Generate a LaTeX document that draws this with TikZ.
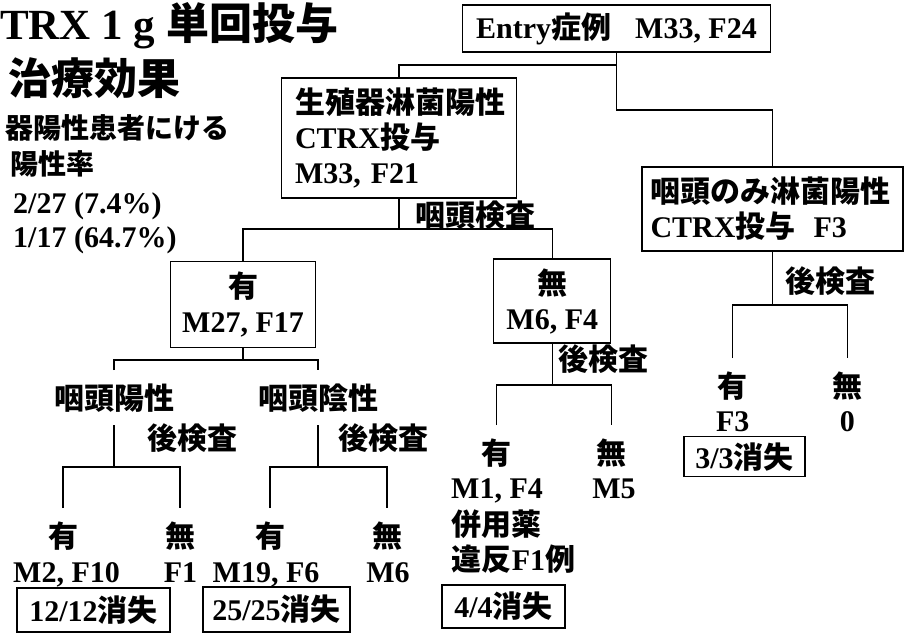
\documentclass[tikz,border=0pt]{standalone}
\usepackage{fontspec}
\setmainfont{Liberation Serif}
\newfontfamily\jpfam{Noto Sans CJK JP}
\newcommand\JPt[1]{{\jpfam #1}}
\begin{document}
\begin{tikzpicture}[x=1pt,y=-1pt,
  every node/.style={inner sep=0pt, font=\bfseries\fontsize{30}{35}\selectfont},
  box/.style={draw, line width=1.2pt},
  lk/.style={line width=1.2pt},
  lab/.style={anchor=base west},
  leaf/.style={anchor=base, inner ysep=13pt},
  cnt/.style={anchor=base},
  ttl/.style={anchor=base west, font=\bfseries\fontsize{43}{50}\selectfont},
  subt/.style={anchor=base west, font=\bfseries\fontsize{28}{34}\selectfont}]
\useasboundingbox (0,0) rectangle (905,635);

% title block
\node[ttl] (t1) at (0,39) {TRX 1 g \JPt{単回投与}};
\node[ttl] (t2) at (8,94) {\JPt{治療効果}};
\node[subt] (t3) at (5,138) {\JPt{器陽性患者にける}};
\node[subt] (t4) at (10,174) {\JPt{陽性率}};
\node[anchor=base west] (t5) at (13,213) {2/27 (7.4\%)};
\node[anchor=base west] (t6) at (13,247) {1/17 (64.7\%)};

% boxes
\node[box, minimum width=308pt, minimum height=47pt] (entry) at (616.5,28.5)
  {Entry\JPt{症例}\hspace{24pt}M33, F24};
\node[box, minimum width=235pt, minimum height=120pt, align=left, text width=208pt] (gen) at (399,138)
  {\JPt{生殖器淋菌陽性}\\CTRX\JPt{投与}\\M33, F21};
\node[box, minimum width=261pt, minimum height=84pt, align=left, text width=244pt] (ph) at (772.5,209)
  {\JPt{咽頭のみ淋菌陽性}\\CTRX\JPt{投与}\hspace{18pt}F3};
\node[box, minimum width=145pt, minimum height=86pt, align=center] (yu) at (243,304.5)
  {\JPt{有}\\M27, F17};
\node[box, minimum width=117pt, minimum height=84pt, align=center] (mu) at (552.3,301)
  {\JPt{無}\\M6, F4};

% labels
\node[lab] (lk1) at (415,226) {\JPt{咽頭検査}};
\node[lab] (lk2) at (785,292) {\JPt{後検査}};
\node[lab] (lk3) at (558,370) {\JPt{後検査}};
\node[lab] (lk4) at (147,449) {\JPt{後検査}};
\node[lab] (lk5) at (338,449) {\JPt{後検査}};
\node[leaf] (yp) at (114,409) {\JPt{咽頭陽性}};
\node[leaf] (yn) at (318,409) {\JPt{咽頭陰性}};

% leaves
\node[leaf] (a1) at (63,547) {\JPt{有}};
\node[cnt] (a1n) at (66.5,582) {M2, F10};
\node[leaf] (a2) at (180,547) {\JPt{無}};
\node[cnt] (a2n) at (180.5,582) {F1};
\node[leaf] (a3) at (270,547) {\JPt{有}};
\node[cnt] (a3n) at (266,582) {M19, F6};
\node[leaf] (a4) at (387,547) {\JPt{無}};
\node[cnt] (a4n) at (388,582) {M6};
\node[leaf] (b1) at (496.7,464) {\JPt{有}};
\node[cnt] (b1n) at (497,498) {M1, F4};
\node[leaf] (b2) at (611.7,464) {\JPt{無}};
\node[cnt] (b2n) at (614,498) {M5};
\node[lab] (b3) at (451.7,535) {\JPt{併用薬}};
\node[lab] (b4) at (451.7,570) {\JPt{違反}F1\JPt{例}};
\node[leaf] (c1) at (732.7,397) {\JPt{有}};
\node[cnt] (c1n) at (732.7,431) {F3};
\node[leaf] (c2) at (847.3,397) {\JPt{無}};
\node[cnt] (c2n) at (847.3,431) {0};

% result boxes
\node[box, minimum width=121pt, minimum height=40pt] (r3) at (744.5,456.7) {3/3\JPt{消失}};
\node[box, minimum width=153pt, minimum height=44pt] (r1) at (93.5,610) {12/12\JPt{消失}};
\node[box, minimum width=147pt, minimum height=45pt] (r2) at (276.5,609.5) {25/25\JPt{消失}};
\node[box, minimum width=123pt, minimum height=43pt] (r4) at (503.5,606.5) {4/4\JPt{消失}};

% junctions
\coordinate (eJ) at (616.5,65);
\coordinate (eJ2) at (616.5,110);
\coordinate (gJ) at (399,229);
\coordinate (yJ) at (243,360);
\coordinate (ypJ) at (114,467);
\coordinate (ynJ) at (318,467);
\coordinate (mJ) at (552.3,385);
\coordinate (pJ) at (772.5,305);

% connectors
\draw[lk] (entry.south) -- (eJ) -| (gen.north);
\draw[lk] (eJ) -- (eJ2) -| (ph.north);
\draw[lk] (gen.south) -- (gJ);
\draw[lk] (yu.north) |- (gJ) -| (mu.north);
\draw[lk] (yu.south) -- (yJ);
\draw[lk] (yp.north) |- (yJ) -| (yn.north);
\draw[lk] (yp.south) -- (ypJ);
\draw[lk] (a1.north) |- (ypJ) -| (a2.north);
\draw[lk] (yn.south) -- (ynJ);
\draw[lk] (a3.north) |- (ynJ) -| (a4.north);
\draw[lk] (mu.south) -- (mJ);
\draw[lk] (b1.north) |- (mJ) -| (b2.north);
\draw[lk] (ph.south) -- (pJ);
\draw[lk] (c1.north) |- (pJ) -| (c2.north);
\end{tikzpicture}
\end{document}
